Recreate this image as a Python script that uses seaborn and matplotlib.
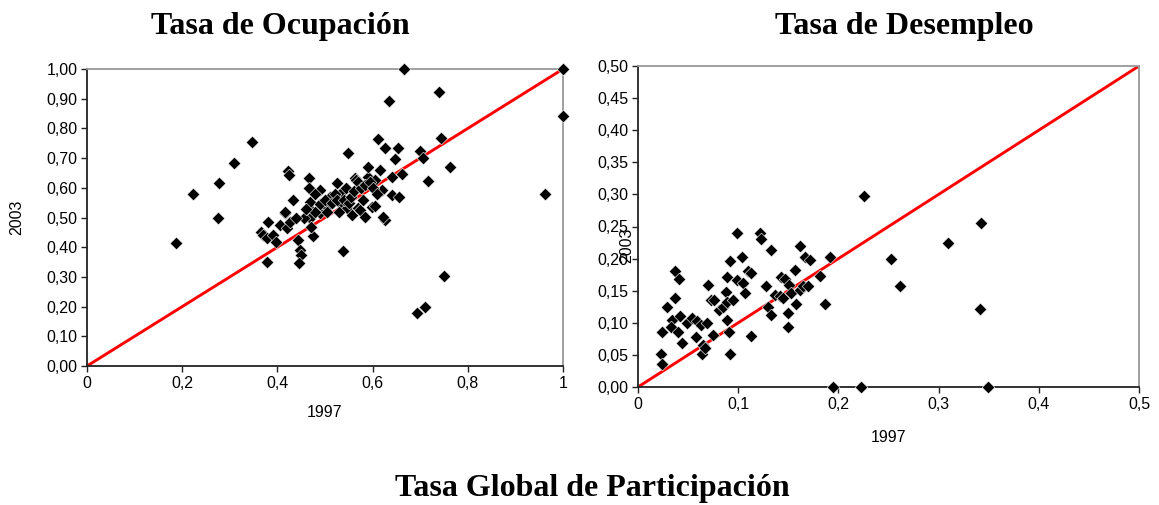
import matplotlib
matplotlib.use("Agg")
import matplotlib.pyplot as plt
import seaborn as sns
import pandas as pd

# ---- Tasa de Ocupación: 1997 vs 2003 ----
ocup_1997 = [0.188, 0.223, 0.275, 0.278, 0.309, 0.347, 0.365, 0.370, 0.378, 0.381,
             0.379, 0.391, 0.397, 0.405, 0.416, 0.420, 0.416, 0.423, 0.425, 0.426,
             0.433, 0.444, 0.447, 0.450, 0.446, 0.474, 0.465, 0.467, 0.467, 0.468,
             0.468, 0.470, 0.486, 0.490, 0.490, 0.504, 0.510, 0.525, 0.532, 0.535,
             0.537, 0.546, 0.549, 0.556, 0.563, 0.565, 0.570, 0.574, 0.584, 0.590,
             0.591, 0.598, 0.604, 0.605, 0.611, 0.616, 0.619, 0.626, 0.622, 0.626,
             0.635, 0.640, 0.640, 0.647, 0.653, 0.656, 0.661, 0.665, 0.694, 0.700,
             0.705, 0.711, 0.716, 0.739, 0.743, 0.749, 0.763, 0.962, 1.000, 1.000,
             0.455, 0.480, 0.490, 0.500, 0.505, 0.515, 0.520, 0.525, 0.530, 0.540,
             0.545, 0.550, 0.555, 0.560, 0.570, 0.575, 0.580, 0.585, 0.595, 0.600,
             0.610, 0.480, 0.460, 0.440]
ocup_2003 = [0.413, 0.579, 0.500, 0.617, 0.685, 0.755, 0.452, 0.441, 0.351, 0.486,
             0.430, 0.441, 0.419, 0.475, 0.514, 0.463, 0.520, 0.658, 0.643, 0.486,
             0.559, 0.424, 0.391, 0.374, 0.348, 0.438, 0.536, 0.632, 0.601, 0.553,
             0.497, 0.469, 0.525, 0.514, 0.593, 0.536, 0.570, 0.617, 0.548, 0.587,
             0.387, 0.531, 0.718, 0.508, 0.632, 0.626, 0.531, 0.525, 0.503, 0.637,
             0.669, 0.536, 0.626, 0.540, 0.763, 0.660, 0.593, 0.492, 0.503, 0.733,
             0.893, 0.576, 0.637, 0.697, 0.733, 0.570, 0.648, 1.000, 0.177, 0.725,
             0.699, 0.200, 0.624, 0.921, 0.767, 0.303, 0.669, 0.579, 1.000, 0.842,
             0.500, 0.520, 0.545, 0.560, 0.520, 0.550, 0.580, 0.560, 0.520, 0.560,
             0.600, 0.550, 0.570, 0.590, 0.620, 0.600, 0.560, 0.610, 0.620, 0.600,
             0.580, 0.580, 0.530, 0.500]

# ---- Tasa de Desempleo: 1997 vs 2003 ----
desem_1997 = [0.023, 0.024, 0.024, 0.029, 0.034, 0.033, 0.037, 0.037, 0.041, 0.040,
              0.044, 0.042, 0.049, 0.054, 0.059, 0.063, 0.058, 0.065, 0.064, 0.067,
              0.069, 0.070, 0.073, 0.076, 0.075, 0.081, 0.085, 0.088, 0.089, 0.092,
              0.089, 0.089, 0.091, 0.092, 0.095, 0.099, 0.099, 0.104, 0.105, 0.107,
              0.110, 0.113, 0.113, 0.122, 0.123, 0.128, 0.130, 0.133, 0.133, 0.137,
              0.142, 0.143, 0.147, 0.145, 0.150, 0.150, 0.151, 0.153, 0.157, 0.158,
              0.162, 0.162, 0.165, 0.167, 0.170, 0.172, 0.182, 0.187, 0.192, 0.195,
              0.223, 0.226, 0.252, 0.261, 0.309, 0.342, 0.341, 0.349]
desem_2003 = [0.051, 0.036, 0.086, 0.125, 0.105, 0.094, 0.138, 0.180, 0.168, 0.086,
              0.068, 0.111, 0.100, 0.107, 0.103, 0.097, 0.078, 0.065, 0.051, 0.060,
              0.099, 0.159, 0.136, 0.136, 0.081, 0.120, 0.125, 0.148, 0.171, 0.196,
              0.133, 0.105, 0.086, 0.051, 0.136, 0.240, 0.167, 0.202, 0.162, 0.146,
              0.180, 0.177, 0.079, 0.240, 0.230, 0.157, 0.124, 0.112, 0.214, 0.143,
              0.141, 0.171, 0.169, 0.139, 0.115, 0.093, 0.159, 0.146, 0.182, 0.130,
              0.151, 0.220, 0.157, 0.202, 0.157, 0.198, 0.173, 0.129, 0.202, 0.000,
              0.000, 0.298, 0.199, 0.158, 0.224, 0.255, 0.122, 0.000]

# 45-degree reference lines
diag_ocup = [0.0, 1.0]
diag_desem = [0.0, 0.5]

# Axis ticks and their labels (comma decimals)
ocup_xticks = [0.0, 0.2, 0.4, 0.6, 0.8, 1.0]
ocup_xlabels = ["0", "0,2", "0,4", "0,6", "0,8", "1"]
ocup_yticks = [0.0, 0.1, 0.2, 0.3, 0.4, 0.5, 0.6, 0.7, 0.8, 0.9, 1.0]
ocup_ylabels = ["0,00", "0,10", "0,20", "0,30", "0,40", "0,50",
                "0,60", "0,70", "0,80", "0,90", "1,00"]
desem_xticks = [0.0, 0.1, 0.2, 0.3, 0.4, 0.5]
desem_xlabels = ["0", "0,1", "0,2", "0,3", "0,4", "0,5"]
desem_yticks = [0.0, 0.05, 0.10, 0.15, 0.20, 0.25, 0.30, 0.35, 0.40, 0.45, 0.50]
desem_ylabels = ["0,00", "0,05", "0,10", "0,15", "0,20", "0,25",
                 "0,30", "0,35", "0,40", "0,45", "0,50"]

titles = ["Tasa de Ocupación", "Tasa de Desempleo"]
bottom_title = "Tasa Global de Participación"

sns.set_style("white")
plt.rcParams["font.family"] = ["Liberation Sans", "DejaVu Sans"]
plt.rcParams["text.color"] = "black"
plt.rcParams["axes.labelcolor"] = "black"

W, H = 1159, 505
fig = plt.figure(figsize=(W / 100, H / 100), dpi=100)
ax1 = fig.add_axes([87 / W, 1 - 366 / H, 476 / W, 297 / H])
ax2 = fig.add_axes([638 / W, 1 - 387 / H, 501 / W, 321 / H])

df_ocup = pd.DataFrame({"1997": ocup_1997, "2003": ocup_2003})
df_desem = pd.DataFrame({"1997": desem_1997, "2003": desem_2003})

panels = [
    (ax1, df_ocup, diag_ocup, ocup_xticks, ocup_xlabels, ocup_yticks, ocup_ylabels),
    (ax2, df_desem, diag_desem, desem_xticks, desem_xlabels, desem_yticks, desem_ylabels),
]

for ax, df, diag, xt, xl, yt, yl in panels:
    sns.lineplot(x=diag, y=diag, ax=ax, color="#ff0000", linewidth=2.1, zorder=2)
    sns.scatterplot(data=df, x="1997", y="2003", ax=ax, marker="D", s=42,
                    color="black", edgecolor="white", linewidth=0.4,
                    zorder=3, clip_on=False)
    ax.set_xlim(xt[0], xt[-1])
    ax.set_ylim(yt[0], yt[-1])
    ax.set_xticks(xt)
    ax.set_xticklabels(xl)
    ax.set_yticks(yt)
    ax.set_yticklabels(yl)
    ax.tick_params(axis="both", direction="out", length=4, width=1.0,
                   color="#222222", labelsize=11.5, pad=3, labelcolor="black")
    ax.tick_params(left=True, bottom=True)
    for side in ("left", "bottom"):
        ax.spines[side].set_color("#222222")
        ax.spines[side].set_linewidth(1.3)
    for side in ("top", "right"):
        ax.spines[side].set_color("#999999")
        ax.spines[side].set_linewidth(1.3)
    ax.set_xlabel("1997", fontsize=11.5)
    ax.set_ylabel("2003", fontsize=11.5)

ax1.yaxis.set_label_coords(-0.132, 0.5)
ax1.xaxis.set_label_coords(0.5, -0.13)
ax2.yaxis.set_label_coords(-0.008, 0.442)
ax2.xaxis.set_label_coords(0.5, -0.134)

serif = ["Liberation Serif", "DejaVu Serif"]
fig.text(280 / W, 1 - 34 / H, titles[0], ha="center", va="baseline",
         fontsize=23, fontweight="bold", family=serif, color="black")
fig.text(904 / W, 1 - 34 / H, titles[1], ha="center", va="baseline",
         fontsize=23, fontweight="bold", family=serif, color="black")
fig.text(592 / W, 1 - 496 / H, bottom_title, ha="center", va="baseline",
         fontsize=23, fontweight="bold", family=serif, color="black")

fig.savefig("out.png", dpi=100)
